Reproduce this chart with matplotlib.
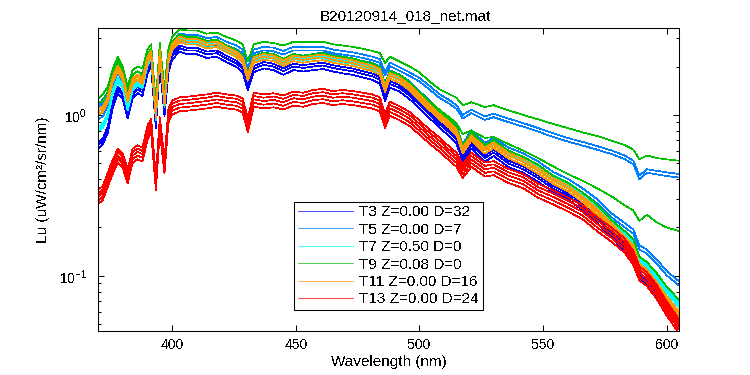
import numpy as np
import matplotlib
matplotlib.use('Agg')
import matplotlib.pyplot as plt
from matplotlib.ticker import LogLocator, NullFormatter, FixedLocator

plt.rcParams['font.family'] = ['Liberation Sans', 'DejaVu Sans']
plt.rcParams['mathtext.fontset'] = 'custom'
plt.rcParams['mathtext.rm'] = 'Liberation Sans'
plt.rcParams['text.antialiased'] = False

wavelength = [370, 372, 374, 376, 378, 380, 382, 384, 386, 388,
              390, 391.5, 393.4, 395, 396.9, 398.5, 400, 403, 406, 410,
              414, 418, 422, 426, 428.5, 430.6, 433, 437, 441, 445,
              449, 453, 457, 461, 465, 469, 473, 477, 481, 484,
              486.1, 488, 492, 496, 500, 504, 508, 512, 515, 517.5,
              521, 526.5, 530, 536, 542, 548, 554, 560, 566, 572,
              578, 583, 586.5, 589, 592, 596, 600, 605]

# Lu (uW/cm^2/sr/nm), one typical spectrum per cast
lu_t3 = [0.65, 0.69, 0.82, 1.17, 1.44, 1.32, 1.00, 1.33, 1.44, 1.38,
         1.89, 2.09, 0.87, 2.13, 1.04, 1.94, 2.33, 2.60, 2.51, 2.51,
         2.38, 2.42, 2.24, 2.09, 1.94, 1.50, 1.94, 2.05, 2.00, 1.87,
         2.00, 1.96, 2.00, 2.03, 1.96, 1.91, 1.87, 1.80, 1.74, 1.65,
         1.29, 1.56, 1.47, 1.32, 1.16, 1.01, 0.88, 0.78, 0.70, 0.54,
         0.65, 0.54, 0.585, 0.50, 0.46, 0.405, 0.35, 0.315, 0.27, 0.225,
         0.18, 0.151, 0.132, 0.101, 0.091, 0.077, 0.062, 0.050]
lu_t5 = [0.97, 1.01, 1.18, 1.59, 1.87, 1.67, 1.23, 1.59, 1.70, 1.60,
         2.20, 2.40, 1.00, 2.47, 1.21, 2.22, 2.70, 3.01, 2.91, 2.91,
         2.75, 2.80, 2.63, 2.45, 2.27, 1.75, 2.27, 2.37, 2.32, 2.16,
         2.32, 2.27, 2.32, 2.37, 2.29, 2.24, 2.18, 2.10, 2.05, 1.94,
         1.52, 1.84, 1.73, 1.57, 1.37, 1.19, 1.04, 0.93, 0.83, 0.64,
         0.78, 0.65, 0.70, 0.61, 0.56, 0.50, 0.43, 0.39, 0.34, 0.29,
         0.236, 0.207, 0.189, 0.150, 0.142, 0.123, 0.104, 0.090]
lu_t5_high = [1.15, 1.25, 1.38, 1.80, 2.15, 1.85, 1.38, 1.78, 1.87, 1.80,
              2.40, 2.58, 1.10, 2.62, 1.33, 2.42, 2.85, 3.20, 3.15, 3.15,
              3.00, 3.05, 2.85, 2.70, 2.55, 1.95, 2.55, 2.65, 2.62, 2.50,
              2.65, 2.65, 2.65, 2.65, 2.55, 2.50, 2.45, 2.38, 2.30, 2.22,
              1.85, 2.12, 1.98, 1.84, 1.70, 1.52, 1.35, 1.24, 1.15, 1.00,
              1.08, 0.98, 1.02, 0.95, 0.89, 0.83, 0.77, 0.72, 0.68, 0.64,
              0.60, 0.56, 0.52, 0.42, 0.46, 0.45, 0.44, 0.43]
lu_t7 = [0.82, 0.86, 1.00, 1.39, 1.66, 1.50, 1.10, 1.46, 1.58, 1.51,
         2.09, 2.30, 0.96, 2.38, 1.16, 2.16, 2.60, 2.92, 2.85, 2.85,
         2.70, 2.75, 2.58, 2.40, 2.22, 1.72, 2.22, 2.35, 2.30, 2.14,
         2.30, 2.24, 2.30, 2.33, 2.24, 2.19, 2.14, 2.06, 1.99, 1.89,
         1.48, 1.79, 1.70, 1.52, 1.33, 1.15, 1.01, 0.90, 0.80, 0.62,
         0.75, 0.62, 0.68, 0.58, 0.53, 0.47, 0.41, 0.37, 0.32, 0.265,
         0.214, 0.184, 0.162, 0.125, 0.116, 0.098, 0.081, 0.066]
lu_t9 = [1.19, 1.22, 1.40, 1.85, 2.16, 1.89, 1.38, 1.77, 1.87, 1.77,
         2.38, 2.59, 1.08, 2.65, 1.30, 2.35, 2.84, 3.16, 3.05, 3.05,
         2.89, 2.94, 2.70, 2.52, 2.33, 1.80, 2.33, 2.44, 2.39, 2.23,
         2.39, 2.33, 2.39, 2.42, 2.33, 2.30, 2.25, 2.16, 2.09, 1.98,
         1.55, 1.87, 1.78, 1.60, 1.39, 1.21, 1.06, 0.94, 0.84, 0.65,
         0.78, 0.65, 0.70, 0.60, 0.55, 0.49, 0.42, 0.38, 0.33, 0.275,
         0.22, 0.19, 0.17, 0.132, 0.122, 0.104, 0.086, 0.071]
lu_t9_mid = [1.19, 1.22, 1.40, 1.85, 2.16, 1.89, 1.38, 1.77, 1.87, 1.77,
             2.38, 2.59, 1.08, 2.65, 1.30, 2.35, 2.84, 3.16, 3.05, 3.05,
             2.89, 2.94, 2.70, 2.52, 2.33, 1.80, 2.33, 2.44, 2.39, 2.23,
             2.39, 2.33, 2.39, 2.42, 2.33, 2.30, 2.25, 2.16, 2.09, 1.98,
             1.55, 1.87, 1.78, 1.60, 1.39, 1.22, 1.08, 0.97, 0.89, 0.76,
             0.80, 0.72, 0.73, 0.66, 0.60, 0.54, 0.48, 0.43, 0.39, 0.35,
             0.31, 0.275, 0.255, 0.22, 0.24, 0.215, 0.20, 0.19]
lu_t9_high = [1.25, 1.35, 1.50, 1.95, 2.30, 2.00, 1.50, 1.90, 2.00, 1.95,
              2.55, 2.75, 1.20, 2.80, 1.45, 2.60, 3.05, 3.40, 3.35, 3.35,
              3.20, 3.25, 3.05, 2.90, 2.75, 2.15, 2.75, 2.85, 2.80, 2.70,
              2.85, 2.85, 2.85, 2.85, 2.75, 2.70, 2.65, 2.58, 2.50, 2.42,
              2.10, 2.30, 2.15, 2.00, 1.84, 1.62, 1.45, 1.35, 1.28, 1.15,
              1.20, 1.12, 1.15, 1.07, 1.00, 0.94, 0.88, 0.83, 0.78, 0.74,
              0.69, 0.65, 0.61, 0.53, 0.56, 0.54, 0.53, 0.52]
lu_t11 = [1.05, 1.09, 1.25, 1.67, 1.95, 1.72, 1.25, 1.62, 1.72, 1.62,
          2.20, 2.40, 1.00, 2.45, 1.20, 2.20, 2.65, 2.95, 2.85, 2.85,
          2.70, 2.75, 2.55, 2.38, 2.20, 1.70, 2.20, 2.30, 2.25, 2.10,
          2.25, 2.20, 2.25, 2.28, 2.20, 2.15, 2.10, 2.02, 1.95, 1.85,
          1.45, 1.75, 1.65, 1.48, 1.29, 1.12, 0.98, 0.87, 0.78, 0.60,
          0.72, 0.60, 0.65, 0.56, 0.51, 0.45, 0.39, 0.35, 0.30, 0.25,
          0.20, 0.17, 0.15, 0.115, 0.105, 0.088, 0.072, 0.058]
lu_t13 = [0.31, 0.33, 0.40, 0.48, 0.56, 0.52, 0.42, 0.56, 0.59, 0.57,
          0.78, 0.86, 0.38, 0.88, 0.48, 1.00, 1.12, 1.17, 1.18, 1.20,
          1.22, 1.25, 1.22, 1.20, 1.15, 0.87, 1.25, 1.22, 1.24, 1.20,
          1.27, 1.25, 1.30, 1.32, 1.28, 1.30, 1.28, 1.25, 1.22, 1.17,
          0.92, 1.10, 1.03, 0.95, 0.84, 0.74, 0.66, 0.58, 0.53, 0.45,
          0.53, 0.46, 0.47, 0.42, 0.39, 0.34, 0.31, 0.28, 0.25, 0.21,
          0.18, 0.155, 0.13, 0.104, 0.096, 0.080, 0.063, 0.049]

# each cast has several repeat profiles, spread around the typical one
t3_spread = [0.95, 1.0, 1.04]
t5_spread = [0.97, 1.03]
t7_spread = [0.97, 1.0, 1.03]
t11_spread = [0.96, 1.0, 1.04]
t13_spread = [0.90, 0.95, 1.0, 1.05, 1.10]

labels = ['T3 Z=0.00 D=32', 'T5 Z=0.00 D=7', 'T7 Z=0.50 D=0',
          'T9 Z=0.08 D=0', 'T11 Z=0.00 D=16', 'T13 Z=0.00 D=24']
colors = ['#0000ff', '#0080ff', '#00ffff', '#00c000', '#ff9900', '#ff0000']

casts = [
    [(lu_t3, f) for f in t3_spread],
    [(lu_t5, f) for f in t5_spread] + [(lu_t5_high, 1.0), (lu_t5_high, 0.95)],
    [(lu_t7, f) for f in t7_spread],
    [(lu_t9, 1.0), (lu_t9_mid, 1.0), (lu_t9_high, 1.0)],
    [(lu_t11, f) for f in t11_spread],
    [(lu_t13, f) for f in t13_spread],
]

fig = plt.figure(figsize=(7.5, 3.75), dpi=100)
ax = fig.add_axes([98 / 750, 44 / 375, 581 / 750, 303 / 375])

wl = np.array(wavelength)
handles = []
for lines, color, label in zip(casts, colors, labels):
    for i, (lu, f) in enumerate(lines):
        h, = ax.plot(wl, np.array(lu) * f, color=color, lw=0.5, antialiased=False)
        if i == 0:
            h.set_label(label)
            handles.append(h)

ax.set_yscale('log')
ax.set_xlim(370, 605)
ax.set_ylim(0.0455, 3.47)
ax.xaxis.set_major_locator(FixedLocator([400, 450, 500, 550, 600]))
ax.yaxis.set_major_locator(LogLocator(base=10))
ax.yaxis.set_minor_locator(LogLocator(base=10, subs=np.arange(2, 10)))
ax.yaxis.set_minor_formatter(NullFormatter())
ax.tick_params(which='both', direction='in', top=True, right=True, labelsize=10)
ax.tick_params(which='major', length=4.3, width=0.75)
ax.tick_params(which='minor', length=2.2, width=0.75)
ax.tick_params(axis='x', pad=5)
ax.tick_params(axis='y', pad=8)
for s in ax.spines.values():
    s.set_linewidth(0.75)

ax.set_xlabel('Wavelength (nm)', fontsize=11, labelpad=2)
ax.set_ylabel('Lu (uW/cm²/sr/nm)', fontsize=11, labelpad=6)
ax.set_title('B20120914_018_net.mat', fontsize=11, pad=6, x=0.53)

leg = ax.legend(handles=handles, loc='upper left', bbox_to_anchor=(0.337, 0.427),
                fontsize=11, frameon=True, fancybox=False, edgecolor='black',
                framealpha=1, handlelength=3.6, handletextpad=0.45,
                labelspacing=0.22, borderpad=0.25, borderaxespad=0)
leg.get_frame().set_linewidth(0.75)

fig.savefig('out.png', dpi=100)
